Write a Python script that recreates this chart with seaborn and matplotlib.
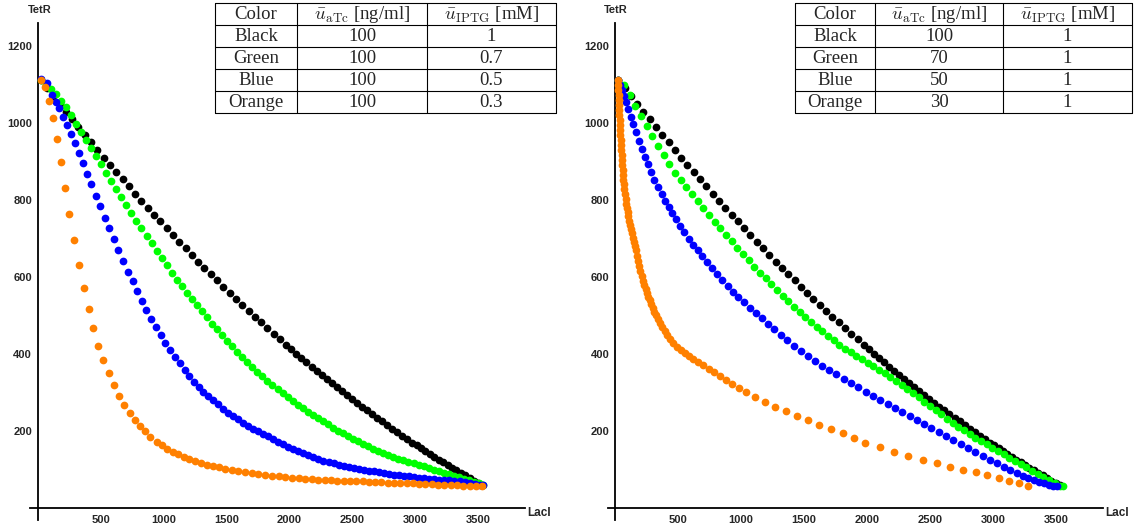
import matplotlib
matplotlib.use("Agg")
import matplotlib.pyplot as plt
import seaborn as sns
from matplotlib.ticker import FixedLocator

sns.set_style("white")
plt.rcParams["font.family"] = ["Liberation Sans", "DejaVu Sans"]
plt.rcParams["mathtext.fontset"] = "cm"

# ---------------- data (LacI, TetR) ----------------
black_x = [25, 75, 125, 175, 225, 275, 325, 375, 425, 475, 525, 575, 625, 675, 725, 775, 825, 875, 925, 975,
           1025, 1075, 1125, 1175, 1225, 1275, 1325, 1375, 1425, 1475, 1525, 1575, 1625, 1675, 1725, 1775, 1825,
           1875, 1925, 1975, 2015, 2055, 2095, 2135, 2175, 2215, 2255, 2295, 2335, 2375, 2415, 2455, 2495, 2535,
           2575, 2615, 2655, 2695, 2735, 2775, 2815, 2855, 2895, 2935, 2975, 3010, 3045, 3080, 3115, 3150, 3185,
           3220, 3255, 3290, 3325, 3360, 3395, 3430, 3465, 3500, 3530]
black_y = [1112, 1091, 1070, 1049, 1029, 1009, 989, 969, 949, 930, 910, 891, 872, 853, 835, 816, 798, 780, 762, 744,
           726, 709, 691, 674, 657, 640, 624, 607, 591, 575, 559, 543, 528, 512, 497, 482, 467, 452, 438, 423, 412,
           400, 389, 378, 367, 356, 346, 335, 324, 314, 304, 293, 283, 273, 263, 254, 244, 234, 225, 216, 206, 197,
           188, 179, 170, 163, 155, 148, 140, 133, 126, 119, 112, 105, 98, 91, 85, 78, 71, 65, 60]

# left panel (aTc = 100, IPTG varies)
green_l_x = [25, 65, 105, 145, 185, 225, 265, 305, 345, 385, 425, 465, 505, 545, 585, 625, 665, 705, 745, 785, 825,
             865, 905, 945, 985, 1025, 1065, 1105, 1145, 1185, 1225, 1265, 1305, 1345, 1385, 1425, 1465, 1505, 1545,
             1585, 1625, 1665, 1705, 1745, 1785, 1825, 1865, 1905, 1945, 1985, 2025, 2065, 2105, 2145, 2185, 2225,
             2265, 2305, 2345, 2385, 2425, 2465, 2505, 2545, 2585, 2625, 2665, 2705, 2745, 2785, 2825, 2865, 2905,
             2945, 2985, 3025, 3065, 3105, 3145, 3185, 3225, 3265, 3305, 3345, 3385, 3425, 3465, 3505, 3535]
green_l_y = [1112, 1099, 1087, 1074, 1058, 1040, 1020, 997, 975, 955, 936, 915, 893, 870, 848, 827, 807, 787, 767,
             746, 726, 706, 687, 668, 649, 630, 611, 593, 576, 559, 543, 527, 511, 495, 479, 464, 449, 434, 420, 406,
             392, 379, 366, 354, 342, 330, 319, 308, 298, 288, 278, 268, 259, 250, 241, 233, 225, 217, 209, 201, 194,
             187, 180, 173, 166, 160, 154, 148, 143, 138, 133, 128, 124, 120, 116, 112, 108, 104, 100, 96, 92, 88, 84,
             80, 76, 72, 68, 64, 61]

blue_l_x = [25, 73, 113, 145, 173, 205, 237, 266, 298, 330, 364, 395, 427, 465, 496, 534, 570, 605, 642, 680, 719,
            756, 792, 832, 864, 901, 939, 978, 1015, 1052, 1092, 1129, 1169, 1205, 1240, 1278, 1317, 1356, 1396, 1435,
            1475, 1515, 1555, 1594, 1634, 1674, 1713, 1753, 1793, 1832, 1872, 1912, 1951, 1991, 2031, 2071, 2110, 2150,
            2190, 2230, 2270, 2310, 2350, 2390, 2430, 2470, 2510, 2550, 2590, 2630, 2670, 2710, 2750, 2790, 2830, 2870,
            2910, 2950, 2990, 3030, 3070, 3110, 3150, 3190, 3230, 3270, 3310, 3350, 3390, 3430, 3470, 3510, 3535]
blue_l_y = [1113, 1103, 1073, 1055, 1038, 1015, 995, 971, 947, 921, 895, 868, 840, 810, 783, 753, 726, 699, 669, 642,
            613, 589, 564, 538, 514, 491, 470, 449, 428, 410, 393, 376, 358, 343, 328, 315, 302, 291, 280, 269, 258,
            248, 238, 230, 221, 213, 205, 199, 192, 186, 179, 172, 166, 159, 153, 148, 142, 137, 132, 127, 123, 119,
            116, 113, 110, 107, 104, 102, 99, 97, 95, 93, 91, 89, 87, 85, 83, 82, 80, 79, 78, 76, 75, 74, 73, 72, 70,
            69, 67, 65, 63, 61, 60]

orange_l_x = [26, 60, 92, 122, 154, 186, 214, 252, 290, 330, 366, 406, 444, 482, 522, 570, 606, 646, 686, 730, 770,
              812, 854, 894, 948, 988, 1028, 1074, 1114, 1162, 1206, 1252, 1300, 1348, 1394, 1442, 1492, 1540, 1594,
              1646, 1700, 1754, 1806, 1860, 1914, 1966, 2020, 2074, 2126, 2180, 2230, 2280, 2330, 2380, 2430, 2480,
              2530, 2580, 2630, 2680, 2730, 2780, 2830, 2880, 2930, 2980, 3030, 3080, 3130, 3180, 3230, 3280, 3330,
              3380, 3430, 3480, 3525]
orange_l_y = [1110, 1093, 1058, 1012, 958, 898, 830, 764, 696, 630, 571, 516, 467, 422, 384, 350, 319, 291, 268, 246,
              228, 212, 199, 185, 172, 164, 154, 146, 140, 133, 127, 122, 118, 113, 109, 106, 102, 99, 96, 93, 91, 88,
              86, 84, 82, 80, 79, 77, 76, 75, 74, 73, 72, 71, 70, 70, 69, 69, 68, 68, 67, 66, 66, 65, 64, 64, 63, 62,
              62, 61, 60, 60, 59, 58, 58, 57, 57]

# right panel (IPTG = 1, aTc varies)
green_r_x = [25, 70, 115, 160, 205, 250, 295, 340, 385, 430, 475, 520, 565, 610, 655, 700, 745, 790, 835, 880, 925,
             970, 1015, 1060, 1105, 1150, 1195, 1240, 1285, 1330, 1375, 1420, 1465, 1510, 1555, 1600, 1645, 1690, 1735,
             1780, 1825, 1870, 1915, 1960, 2005, 2050, 2095, 2140, 2185, 2230, 2275, 2320, 2365, 2410, 2455, 2500,
             2545, 2590, 2635, 2680, 2725, 2770, 2815, 2860, 2905, 2950, 2995, 3040, 3085, 3130, 3175, 3220, 3265,
             3310, 3355, 3400, 3445, 3490, 3530, 3555]
green_r_y = [1112, 1098, 1072, 1045, 1018, 991, 965, 940, 916, 893, 871, 852, 833, 815, 796, 778, 761, 743, 726, 709,
             692, 675, 659, 643, 627, 611, 596, 581, 566, 551, 537, 523, 509, 495, 482, 470, 459, 447, 435, 424, 414,
             404, 395, 386, 377, 368, 359, 350, 340, 330, 320, 309, 299, 288, 276, 265, 254, 243, 232, 221, 211, 202,
             192, 183, 175, 166, 157, 148, 140, 131, 123, 115, 106, 97, 89, 80, 72, 64, 58, 57]

blue_r_x = [25, 40, 55, 71, 88, 106, 125, 145, 166, 188, 211, 235, 260, 286, 313, 341, 370, 400, 431,
            455, 486, 518, 551, 585, 620, 656, 693, 731, 770, 810, 851, 893, 936, 980, 1025, 1071, 1118, 1166, 1215,
            1265, 1316, 1368, 1421, 1475, 1530, 1586, 1643, 1700, 1758, 1816, 1874, 1932, 1990, 2048, 2106, 2164,
            2222, 2280, 2338, 2396, 2454, 2512, 2570, 2628, 2686, 2744, 2802, 2860, 2918, 2976, 3032, 3086, 3138,
            3188, 3236, 3282, 3326, 3368, 3408, 3446, 3480, 3505]
blue_r_y = [1112, 1099, 1085, 1070, 1053, 1035, 1016, 996, 975, 954, 933, 912, 892, 872, 852, 833, 815, 798, 782,
            767, 750, 733, 716, 699, 684, 670, 655, 640, 624, 608, 592, 576, 560, 547, 534, 520, 507,
            493, 479, 464, 450, 435, 422, 409, 395, 382, 370, 359, 347, 335, 324, 313, 302, 291, 280, 270, 260, 249,
            239, 229, 219, 208, 198, 187, 177, 166, 156, 145, 135, 125, 116, 107, 99, 91, 84, 78, 73, 68, 64, 61, 58,
            57]

orange_r_x = [25, 26, 27, 28, 30, 31, 33, 35, 37, 39, 41, 43, 45, 48, 50, 53, 56, 59, 62, 64, 66, 69, 73, 78, 83, 88,
              93, 99, 105, 111, 118, 125, 133, 140, 148, 156, 164, 172, 181, 191, 201, 212, 222, 232, 242, 251, 262,
              274, 286, 298, 310, 324, 340, 357, 375, 394, 414, 435, 460, 489, 520, 552, 586, 622, 660, 700, 742, 786,
              832, 880, 930, 982, 1036, 1110, 1190, 1272, 1356, 1442, 1530, 1620, 1712, 1806, 1900, 1985, 2104, 2215,
              2329, 2443, 2554, 2660, 2761, 2866, 2956, 3047, 3131, 3206, 3282]
orange_r_y = [1112, 1099, 1086, 1073, 1060, 1047, 1034, 1021, 1008, 995, 982, 969, 956, 943, 930, 917, 904, 891, 878,
              865, 852, 840, 828, 815, 802, 790, 780, 768, 757, 746, 735, 724, 713, 702, 691, 680, 669, 655, 642, 629,
              616, 602, 590, 579, 568, 558, 549, 539, 529, 519, 509, 500, 490, 480, 470, 460, 450, 439, 429, 419, 410,
              402, 394, 387, 379, 371, 362, 352, 343, 333, 323, 312, 301, 289, 276, 263, 251, 239, 228, 216, 205, 194,
              182, 170, 158, 146, 135, 125, 116, 107, 100, 93, 86, 78, 71, 64, 58]

series_colors = {"Black": "#000000", "Green": "#00FF00", "Blue": "#0000FF", "Orange": "#FF8000"}
left_series = [("Black", black_x, black_y), ("Green", green_l_x, green_l_y),
               ("Blue", blue_l_x, blue_l_y), ("Orange", orange_l_x, orange_l_y)]
right_series = [("Black", black_x, black_y), ("Green", green_r_x, green_r_y),
                ("Blue", blue_r_x, blue_r_y), ("Orange", orange_r_x, orange_r_y)]

# table contents
table_header = ["Color", r"$\bar{u}_{\rm aTc}$ [ng/ml]", r"$\bar{u}_{\rm IPTG}$ [mM]"]
color_names = ["Black", "Green", "Blue", "Orange"]
left_aTc = ["100", "100", "100", "100"]
left_IPTG = ["1", "0.7", "0.5", "0.3"]
right_aTc = ["100", "70", "50", "30"]
right_IPTG = ["1", "1", "1", "1"]

x_label = "LacI"
y_label = "TetR"
x_major = [500, 1000, 1500, 2000, 2500, 3000, 3500]
y_major = [200, 400, 600, 800, 1000, 1200]

# ---------------- figure ----------------
W, H = 1138, 529
fig = plt.figure(figsize=(W / 100, H / 100), dpi=100)

def fx(px):
    return px / W

def fy(py):
    return 1 - py / H

XLIM = (-60, 3870)
YLIM = (-31, 1260)
ax_w = 495
ax_top, ax_bot = 22.7, 520

def make_axes(left_px, series):
    ax = fig.add_axes([fx(left_px), fy(ax_bot), ax_w / W, (ax_bot - ax_top) / H])
    for name, xs, ys in series:
        sns.scatterplot(x=xs, y=ys, color=series_colors[name], s=31, linewidth=0,
                        ax=ax, legend=False, zorder=3, clip_on=False)
    ax.set_xlim(*XLIM)
    ax.set_ylim(*YLIM)
    for side in ["top", "right"]:
        ax.spines[side].set_visible(False)
    ax.spines["left"].set_position(("data", 0))
    ax.spines["bottom"].set_position(("data", 0))
    for side in ["left", "bottom"]:
        ax.spines[side].set_linewidth(1.3)
        ax.spines[side].set_color("black")
    ax.xaxis.set_major_locator(FixedLocator(x_major))
    ax.yaxis.set_major_locator(FixedLocator(y_major))
    ax.xaxis.set_minor_locator(FixedLocator([v for v in range(100, 3900, 100) if v not in x_major]))
    ax.yaxis.set_minor_locator(FixedLocator([v for v in range(50, 1260, 50) if v not in y_major]))
    ax.tick_params(axis="both", which="major", direction="in", length=4, width=1.0,
                   labelsize=8, color="black")
    ax.tick_params(axis="x", which="major", pad=5)
    ax.tick_params(axis="y", which="major", pad=4)
    ax.tick_params(axis="both", which="minor", direction="in", length=2.2, width=0.8, color="#444444")
    for lab in ax.get_xticklabels() + ax.get_yticklabels():
        lab.set_fontweight("bold")
    ax.set_xlabel("")
    ax.set_ylabel("")
    ax.set_facecolor("none")
    ax.grid(False)
    return ax

axL = make_axes(30, left_series)
axR = make_axes(607.5, right_series)

# overlay in pixel coordinates for axis titles and tables
ov = fig.add_axes([0, 0, 1, 1], facecolor="none")
ov.set_xlim(0, W)
ov.set_ylim(H, 0)
ov.axis("off")

for x0 in (40, 616):
    ov.text(x0, 10, y_label, ha="center", va="center", fontsize=8, fontweight="bold")
for x0 in (527, 1105):
    ov.text(x0, 513, x_label, ha="left", va="center", fontsize=8.5, fontweight="bold")

row_edges = [3, 25, 47, 69, 91, 113]

def draw_table(col_edges, col2, col3):
    rows = [table_header] + [[c, a, b] for c, a, b in zip(color_names, col2, col3)]
    for yv in row_edges:
        ov.plot([col_edges[0], col_edges[-1]], [yv, yv], color="black", lw=0.8)
    for xv in col_edges:
        ov.plot([xv, xv], [row_edges[0], row_edges[-1]], color="black", lw=0.8)
    for r, row in enumerate(rows):
        yc = (row_edges[r] + row_edges[r + 1]) / 2
        for c, txt in enumerate(row):
            xc = (col_edges[c] + col_edges[c + 1]) / 2
            ov.text(xc, yc + 0.5, txt, ha="center", va="center", fontsize=13.5,
                    family=["Liberation Serif", "DejaVu Serif"])

draw_table([215, 297, 427, 556], left_aTc, left_IPTG)
draw_table([795, 875, 1003, 1132], right_aTc, right_IPTG)

fig.savefig("out.png", dpi=100)
